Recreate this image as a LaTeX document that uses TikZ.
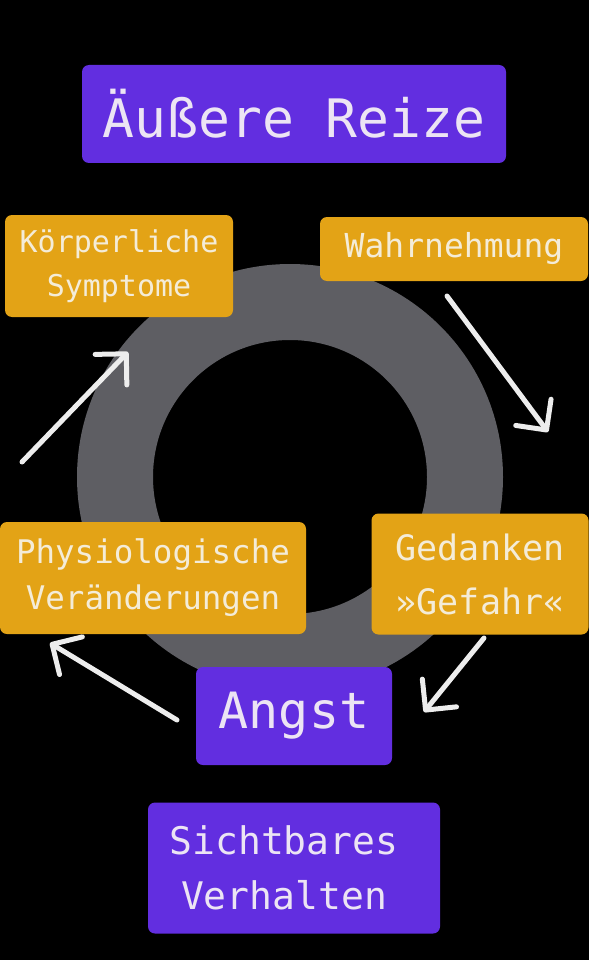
\documentclass[tikz,border=0pt]{standalone}
\usepackage{fontspec}
\setmonofont{DejaVu Sans Mono}
\usepackage{tikz}
\usetikzlibrary{arrows.meta}

\definecolor{lila}{RGB}{98,46,224}
\definecolor{orange}{RGB}{227,163,22}
\definecolor{ring}{RGB}{94,94,99}
\definecolor{hellLila}{RGB}{236,228,244}
\definecolor{hellGelb}{RGB}{244,236,216}

\newcommand{\grad}[2]{\ttfamily\fontsize{#1}{#2}\selectfont}

\tikzset{
  lilabox/.style={fill=lila, rounded corners=7pt, text=hellLila, align=center, inner sep=0pt},
  orangebox/.style={fill=orange, rounded corners=7pt, text=hellGelb, align=center, inner sep=0pt},
  pfeil/.style={draw=white!93!black, line width=5pt, line cap=round, -{Straight Barb[length=22pt,width=44pt,round]}}
}

\begin{document}
\begin{tikzpicture}[x=1pt,y=1pt,yscale=-1,xscale=1]
%set diagram left start at 0, and has height of 960
\fill[black] (0,0) rectangle (589,960);
\useasboundingbox (0,0) rectangle (589,960);

%Shape: Ring
\fill[ring, even odd rule] (290,477) circle (213) (290,477) circle (137);

%Shape: Rectangle
\node[lilabox, minimum width=424pt, minimum height=98pt, font=\grad{53}{60}] (reize) at (294,114)
  {Äußere Reize};
%Shape: Rectangle
\node[orangebox, minimum width=228pt, minimum height=102pt, font=\grad{30}{44}] (koerper) at (119,266)
  {Körperliche\\Symptome};
%Shape: Rectangle
\node[orangebox, minimum width=268pt, minimum height=64pt, font=\grad{33}{40}] (wahr) at (454,249)
  {Wahrnehmung};
%Shape: Rectangle
\node[orangebox, minimum width=306pt, minimum height=112pt, font=\grad{32.5}{46}] (physio) at (153,578)
  {Physiologische\\Veränderungen};
%Shape: Rectangle
\node[orangebox, minimum width=217pt, minimum height=121pt, font=\grad{35}{54}] (gedanken) at (480,574)
  {Gedanken\\»Gefahr«};
%Shape: Rectangle
\node[lilabox, minimum width=196pt, minimum height=98pt, font=\grad{50}{56}] (angst) at (294,716)
  {Angst};
%Shape: Rectangle
\node[lilabox, minimum width=292pt, minimum height=131pt, font=\grad{38}{55}] (verhalten) at (294,868)
  {Sichtbares\hspace*{20pt}\\Verhalten\hspace*{20pt}};

%Arrow ends
\coordinate (wahr-aus) at (447,296);
\coordinate (ged-ein) at (548,432);
\coordinate (ged-aus) at (484,638);
\coordinate (angst-ein) at (424,712);
\coordinate (angst-aus) at (177,720);
\coordinate (physio-ein) at (50,643);
\coordinate (physio-aus) at (22,462);
\coordinate (koerper-ein) at (128,352);

%Straight Lines
\draw[pfeil] (wahr-aus) -- (ged-ein);
\draw[pfeil] (ged-aus) -- (angst-ein);
\draw[pfeil] (angst-aus) -- (physio-ein);
\draw[pfeil] (physio-aus) -- (koerper-ein);
\end{tikzpicture}
\end{document}
